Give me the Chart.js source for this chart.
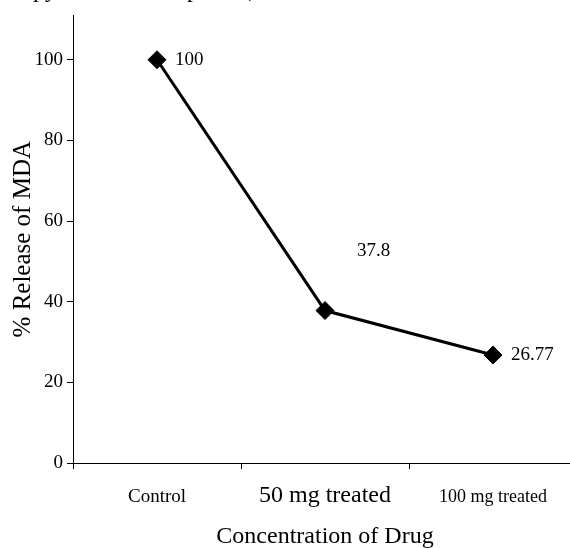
<!DOCTYPE html>
<html>
<head>
<meta charset="utf-8">
<script src="https://cdn.jsdelivr.net/npm/chart.js@4"></script>
<style>
  html, body { margin: 0; padding: 0; background: #fff; overflow: hidden; }
  #wrap { position: absolute; left: 0; top: 0; width: 577px; height: 548px; }
</style>
</head>
<body>
<div id="wrap"><canvas id="mdaChart"></canvas></div>
<script>
// data
const categories = ['Control', '50 mg treated', '100 mg treated'];
const releaseMDA = [100, 37.8, 26.77];
const valueLabels = ['100', '37.8', '26.77'];
const yTicks = [0, 20, 40, 60, 80, 100];

const serif = "'Liberation Serif', 'Times New Roman', serif";

// where each value label sits relative to its point
const labelOffsets = [[18, 0], [32, -60], [18, 0]];

const valueLabelPlugin = {
  id: 'valueLabels',
  afterDatasetsDraw(chart) {
    const ctx = chart.ctx;
    const meta = chart.getDatasetMeta(0);
    ctx.save();
    ctx.font = '19px ' + serif;
    ctx.fillStyle = '#000';
    ctx.textAlign = 'left';
    ctx.textBaseline = 'middle';
    meta.data.forEach((pt, i) => {
      const off = labelOffsets[i];
      ctx.fillText(valueLabels[i], pt.x + off[0], pt.y + off[1]);
    });
    ctx.restore();
  }
};

// bits of the caption above the chart that were cut off in the source
const captionScraps = {
  id: 'captionScraps',
  afterDraw(chart) {
    const ctx = chart.ctx;
    ctx.save();
    ctx.font = '24px ' + serif;
    ctx.fillStyle = '#000';
    ctx.textBaseline = 'alphabetic';
    ctx.fillText('py', 33, -3);
    ctx.fillText('p', 187, -3);
    ctx.fillText(',', 248, -3);
    ctx.restore();
  }
};

// font size and line height per category label, so the baselines line up
const xFontSizes = [19, 24, 18];
const xLineHeights = [1.67, 1.2, 1.8];

new Chart(document.getElementById('mdaChart').getContext('2d'), {
  type: 'line',
  data: {
    labels: categories,
    datasets: [{
      label: '% Release of MDA',
      data: releaseMDA,
      borderColor: '#000',
      backgroundColor: '#000',
      borderWidth: 3,
      tension: 0,
      pointStyle: 'rectRot',
      pointRadius: 9,
      pointHoverRadius: 9,
      pointBorderWidth: 1,
      pointBackgroundColor: '#000',
      pointBorderColor: '#000'
    }]
  },
  options: {
    responsive: true,
    maintainAspectRatio: false,
    animation: false,
    layout: { autoPadding: false, padding: { top: 12, left: 0, right: 0, bottom: 0 } },
    plugins: {
      legend: { display: false },
      tooltip: { enabled: false }
    },
    scales: {
      x: {
        type: 'category',
        offset: true,
        grid: { display: true, offset: true, drawOnChartArea: false, tickLength: 6, color: '#000' },
        border: { display: true, color: '#000', width: 1 },
        ticks: {
          color: '#000',
          padding: 12,
          maxRotation: 0,
          font: (c) => ({ family: serif, size: xFontSizes[c.index] || 19, lineHeight: xLineHeights[c.index] || 1.2 })
        },
        title: {
          display: true,
          text: 'Concentration of Drug',
          color: '#000',
          font: { family: serif, size: 24, lineHeight: 0.9 },
          padding: { top: 0, bottom: 0 }
        },
        afterFit(scale) { scale.height = 85; }
      },
      y: {
        min: 0,
        max: 111,
        grid: { display: true, drawOnChartArea: false, tickLength: 6, color: '#000' },
        border: { display: true, color: '#000', width: 1 },
        ticks: {
          stepSize: 20,
          color: '#000',
          padding: 4,
          font: { family: serif, size: 19 }
        },
        afterBuildTicks(scale) {
          scale.ticks = yTicks.map(v => ({ value: v }));
        },
        title: {
          display: true,
          text: '% Release of MDA',
          color: '#000',
          font: { family: serif, size: 25 },
          padding: { top: 8, bottom: 0 }
        },
        afterFit(scale) { scale.width = 73; }
      }
    }
  },
  plugins: [valueLabelPlugin, captionScraps]
});
</script>
</body>
</html>
